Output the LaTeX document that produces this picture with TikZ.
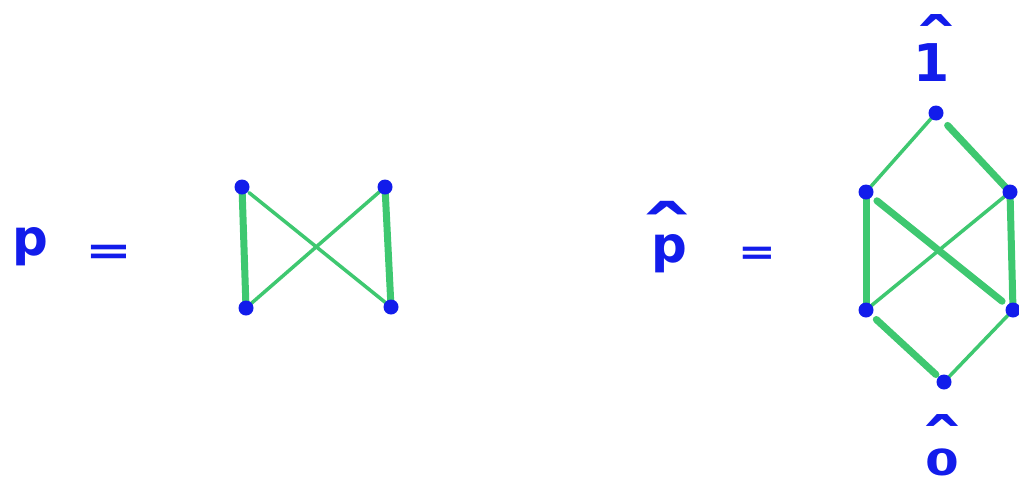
\documentclass[tikz,border=0pt]{standalone}
\usepackage{fontspec}
\newfontfamily\hand{DejaVu Sans Bold}
\definecolor{inkblue}{RGB}{18,28,235}
\definecolor{edgegreen}{RGB}{62,200,112}
% #1 base text, #2 hat font size, #3 hat x-scale, #4 raise, #5 x-shift of hat
\newcommand\hatover[5]{\ooalign{#1\cr\hidewidth\kern#5\raisebox{#4}{\scalebox{#3}[1]{\fontsize{#2}{#2}\selectfont ˆ}}\hidewidth\cr}}
\begin{document}
\begin{tikzpicture}[x=1pt,y=-1pt,
  dot/.style={circle,fill=inkblue,inner sep=0pt,minimum size=15pt},
  thickedge/.style={edgegreen,line width=7pt,line cap=round},
  thinedge/.style={edgegreen,line width=3.5pt,line cap=round},
  lab/.style={text=inkblue,inner sep=0pt,anchor=base,font=\hand}]
\useasboundingbox[fill=white] (0,0) rectangle (1019,482);
% left poset P
\coordinate (a1) at (242,187);
\coordinate (a2) at (385,187);
\coordinate (b1) at (246,308);
\coordinate (b2) at (391,307);
\draw[thickedge] (a1) -- (b1);
\draw[thickedge] (a2) -- (b2);
\draw[thinedge,shorten <=9pt] (a1) -- (b2);
\draw[thinedge] (b1) -- (a2);
\foreach \n in {a1,a2,b1,b2} \node[dot] (d\n) at (\n) {};
% right poset P hat
\coordinate (t) at (936,113);
\coordinate (l1) at (866,192);
\coordinate (r1) at (1010,192);
\coordinate (l2) at (866,310);
\coordinate (r2) at (1013,310);
\coordinate (o) at (944,382);
\draw[thinedge] (t) -- (l1);
\draw[thickedge,shorten <=17pt,shorten >=3pt] (t) -- (r1);
\draw[thickedge] (l1) -- (l2);
\draw[thickedge] (r1) -- (r2);
\draw[thickedge,shorten <=14pt,shorten >=14pt] (l1) -- (r2);
\draw[thinedge] (l2) -- (r1);
\draw[thickedge,shorten <=14pt,shorten >=11pt] (l2) -- (o);
\draw[thinedge] (r2) -- (o);
\foreach \n in {t,l1,r1,l2,r2,o} \node[dot] (d\n) at (\n) {};
% labels
\node[lab,font=\hand\fontsize{50}{50}\selectfont] (p) at (30,255) {p};
\node[lab,font=\hand\fontsize{40}{40}\selectfont,xscale=1.4] (eq1) at (109,264) {=};
\node[lab,font=\hand\fontsize{50}{50}\selectfont] (ph) at (669,262) {\hatover{p}{74}{1.5}{2pt}{-4pt}};
\node[lab,font=\hand\fontsize{36}{36}\selectfont,xscale=1.25] (eq2) at (757,264) {=};
\node[lab,font=\hand\fontsize{52}{52}\selectfont] (one) at (932,81) {\hatover{1}{65}{1.35}{15pt}{8pt}};
\node[lab,font=\hand\fontsize{36}{36}\selectfont] (zero) at (942,475) {\hatover{\scalebox{1.35}[1]{0}}{65}{1.35}{9pt}{0pt}};
\end{tikzpicture}
\end{document}
